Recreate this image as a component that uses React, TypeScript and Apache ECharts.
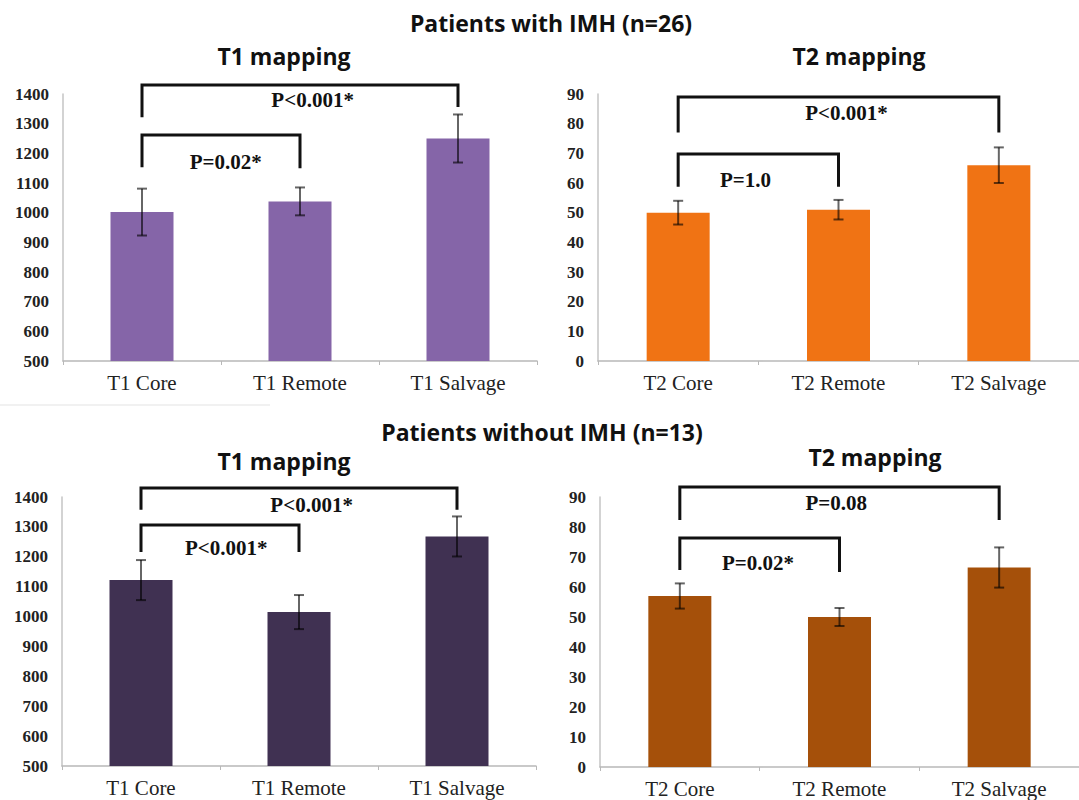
import React, { useEffect, useRef } from "react";
import * as echarts from "echarts";

// ---- data ----
const categoriesT1 = ["T1 Core", "T1 Remote", "T1 Salvage"];
const categoriesT2 = ["T2 Core", "T2 Remote", "T2 Salvage"];

const imhT1Mean = [1002, 1038, 1250];
const imhT1Err = [79, 47, 81];
const imhT2Mean = [50, 51, 66];
const imhT2Err = [4, 3.3, 6];

const noImhT1Mean = [1122, 1015, 1268];
const noImhT1Err = [67, 57, 67];
const noImhT2Mean = [57, 50, 66.5];
const noImhT2Err = [4.2, 3, 6.7];

const t1Ticks = { min: 500, max: 1400, interval: 100 };
const t2Ticks = { min: 0, max: 90, interval: 10 };

// brackets: [fromCat, toCat, topValue, leftEnd, rightEnd, labelCatPos, labelValue]
const imhT1Brackets = [
  [0, 2, 1430, 1322, 1356, 1.08, 1380],
  [0, 1, 1262, 1153, 1150, 0.53, 1170],
];
const imhT1Labels = ["P<0.001*", "P=0.02*"];
const imhT2Brackets = [
  [0, 2, 89, 77, 77, 1.05, 83.6],
  [0, 1, 69.8, 58.7, 58.7, 0.42, 61],
];
const imhT2Labels = ["P<0.001*", "P=1.0"];
const noImhT1Brackets = [
  [0, 2, 1430, 1357, 1357, 1.08, 1373],
  [0, 1, 1306, 1216, 1216, 0.54, 1229],
];
const noImhT1Labels = ["P<0.001*", "P<0.001*"];
const noImhT2Brackets = [
  [0, 2, 93.3, 82.3, 82.3, 0.98, 88],
  [0, 1, 76.3, 65.7, 65, 0.49, 68],
];
const noImhT2Labels = ["P=0.08", "P=0.02*"];

const COLORS = ["#8565a8", "#f07314", "#403152", "#a5500a"];

const serif = "'Liberation Serif', 'Times New Roman', serif";
const sans = "'Open Sans', Lato, sans-serif";

function errRender(params: any, api: any) {
  const idx = api.value(0);
  const lo = api.coord([idx, api.value(1)]);
  const hi = api.coord([idx, api.value(2)]);
  const hw = 5;
  const st = { stroke: "rgba(0,0,0,0.6)", lineWidth: 2 };
  return {
    type: "group",
    children: [
      { type: "line", shape: { x1: hi[0], y1: hi[1], x2: lo[0], y2: lo[1] }, style: st },
      { type: "line", shape: { x1: hi[0] - hw, y1: hi[1], x2: hi[0] + hw, y2: hi[1] }, style: st },
      { type: "line", shape: { x1: lo[0] - hw, y1: lo[1], x2: lo[0] + hw, y2: lo[1] }, style: st },
    ],
  };
}

function bracketRender(labels: string[]) {
  return (params: any, api: any) => {
    const x1 = api.value(0);
    const x2 = api.value(1);
    const yTop = api.value(2);
    const pL = api.coord([x1, api.value(3)]);
    const pTL = api.coord([x1, yTop]);
    const pTR = api.coord([x2, yTop]);
    const pR = api.coord([x2, api.value(4)]);
    const ly = api.value(6);
    const c0 = api.coord([0, ly]);
    const c1 = api.coord([1, ly]);
    const tx = c0[0] + api.value(5) * (c1[0] - c0[0]);
    return {
      type: "group",
      children: [
        {
          type: "polyline",
          shape: { points: [pL, pTL, pTR, pR] },
          style: { stroke: "#111", lineWidth: 3, fill: null },
        },
        {
          type: "text",
          style: {
            text: labels[params.dataIndex],
            x: tx,
            y: c0[1],
            align: "center",
            verticalAlign: "middle",
            font: `bold 21px ${serif}`,
            fill: "#111",
          },
        },
      ],
    };
  };
}

export default function App() {
  const ref = useRef<HTMLDivElement>(null);

  useEffect(() => {
    if (!ref.current) return;
    const chart = echarts.init(ref.current, undefined, { renderer: "svg" });

    const grids = [
      { left: 63, top: 94, width: 474, height: 267 },
      { left: 598, top: 94, width: 495, height: 267 },
      { left: 62, top: 497, width: 474, height: 269 },
      { left: 600, top: 497, width: 494, height: 270 },
    ];
    const cats = [categoriesT1, categoriesT2, categoriesT1, categoriesT2];
    const ticks = [t1Ticks, t2Ticks, t1Ticks, t2Ticks];
    const means = [imhT1Mean, imhT2Mean, noImhT1Mean, noImhT2Mean];
    const errs = [imhT1Err, imhT2Err, noImhT1Err, noImhT2Err];
    const brackets = [imhT1Brackets, imhT2Brackets, noImhT1Brackets, noImhT2Brackets];
    const bLabels = [imhT1Labels, imhT2Labels, noImhT1Labels, noImhT2Labels];

    const xAxis = cats.map((c, i) => ({
      type: "category",
      gridIndex: i,
      data: c,
      axisLine: { lineStyle: { color: "#b8b8b8", width: 1.5 } },
      axisTick: { show: true, length: 4, lineStyle: { color: "#b8b8b8" } },
      axisLabel: { color: "#222", fontFamily: serif, fontSize: 21, margin: 11 },
    }));
    const yAxis = ticks.map((t, i) => ({
      type: "value",
      gridIndex: i,
      min: t.min,
      max: t.max,
      interval: t.interval,
      splitLine: { show: false },
      axisLine: { show: true, lineStyle: { color: "#c4c4c4", width: 1.5 } },
      axisTick: { show: false },
      axisLabel: {
        color: "#222",
        fontFamily: serif,
        fontWeight: "bold",
        fontSize: 17,
        margin: 14,
        formatter: (v: number) => String(v),
      },
    }));

    const series: any[] = [];
    for (let i = 0; i < 4; i++) {
      series.push({
        type: "bar",
        xAxisIndex: i,
        yAxisIndex: i,
        data: means[i],
        barWidth: 63,
        itemStyle: { color: COLORS[i] },
        z: 2,
      });
      series.push({
        type: "custom",
        xAxisIndex: i,
        yAxisIndex: i,
        data: means[i].map((m, k) => [k, m - errs[i][k], m + errs[i][k]]),
        renderItem: errRender,
        encode: { x: 0, y: [1, 2] },
        z: 3,
      });
      series.push({
        type: "custom",
        xAxisIndex: i,
        yAxisIndex: i,
        data: brackets[i],
        renderItem: bracketRender(bLabels[i]),
        encode: { x: 0, y: 2 },
        clip: false,
        z: 4,
      });
    }

    const mk = (text: string, x: number, y: number) => ({
      type: "text",
      x,
      y,
      style: { text, align: "center", verticalAlign: "middle", font: `bold 23px ${sans}`, fill: "#111" },
    });

    chart.setOption({
      animation: false,
      backgroundColor: "#fff",
      grid: grids,
      xAxis,
      yAxis,
      series,
      graphic: [
        mk("Patients with IMH (n=26)", 551, 23),
        mk("T1 mapping", 284, 56),
        mk("T2 mapping", 859, 56),
        mk("Patients without IMH (n=13)", 542, 432),
        mk("T1 mapping", 284, 461),
        mk("T2 mapping", 875, 457),
        {
          type: "line",
          shape: { x1: 0, y1: 405, x2: 270, y2: 405 },
          style: { stroke: "#ececec", lineWidth: 1.5 },
        },
      ],
    });

    return () => chart.dispose();
  }, []);

  return (
    <div
      ref={ref}
      style={{ position: "absolute", left: 0, top: 0, width: 1079, height: 800, background: "#fff" }}
    />
  );
}
